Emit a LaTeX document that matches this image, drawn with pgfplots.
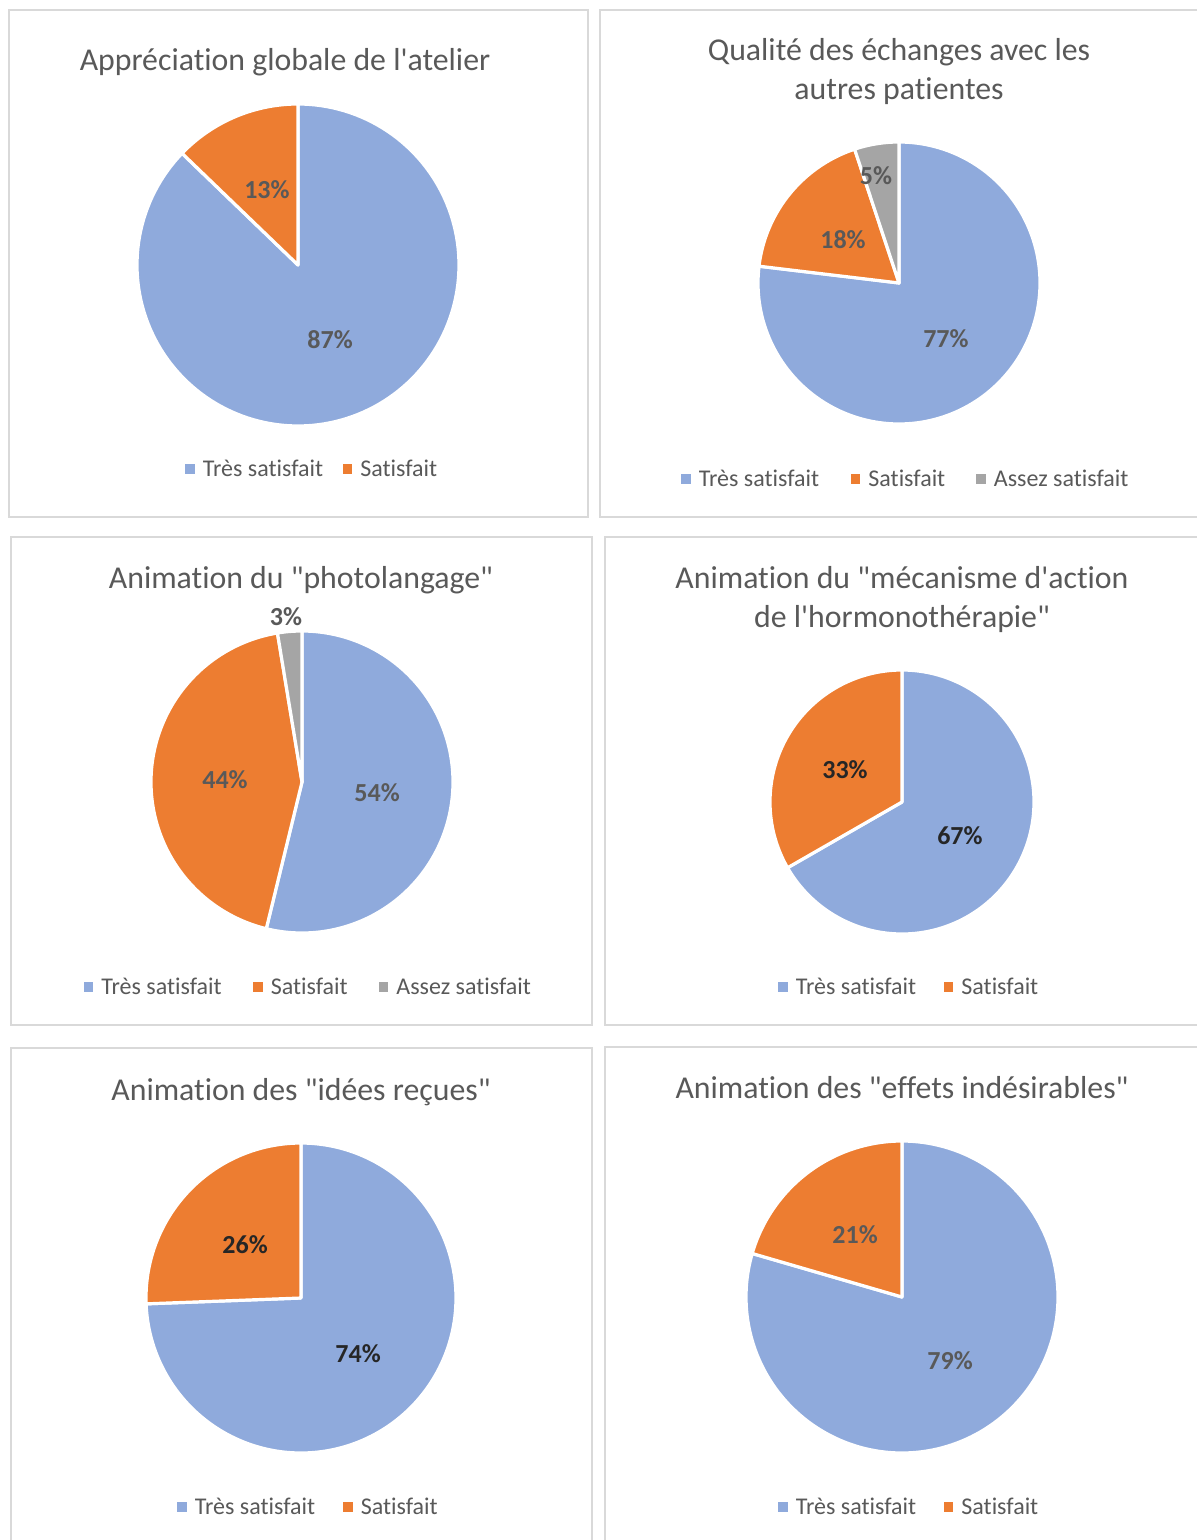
\documentclass[border=0pt]{standalone}
\usepackage{pgfplots}
\pgfplotsset{compat=1.18}
\usepackage{fontspec}
\setmainfont{Carlito}[Ligatures={TeXOff,NoCommon}]
\definecolor{cblue}{HTML}{8FAADC}
\definecolor{corange}{HTML}{ED7D31}
\definecolor{cgray}{HTML}{A5A5A5}
\definecolor{ctext}{HTML}{595959}
\definecolor{cdark}{HTML}{262626}
\definecolor{cborder}{HTML}{D9D9D9}

% slice from cumulative percentage #1 to #2, clockwise from the top
\newcommand{\pieslice}[3]{%
  \pgfmathsetmacro\dA{90-3.6*#2}%
  \pgfmathsetmacro\dB{90-3.6*#1}%
  \edef\doslice{\noexpand\addplot[draw=white, line width=1.6pt, line join=round, fill=#3, domain=\dA:\dB, samples=150] ({cos(x)},{sin(x)}) -- (axis cs:0,0) -- cycle;}%
  \doslice}
% positions are given in pixels from the top-left corner (y downwards)
\newcommand{\leg}[4]{% square centre x, square centre y, colour, text
  \fill[#3] ({#1-4.7},{-(#2)-4.7}) rectangle ({#1+4.7},{-(#2)+4.7});
  \node[anchor=base west, inner sep=0, text=ctext, font=\fontsize{12}{14}\selectfont] at ({#1+12.5},{-(#2)-7}) {#4};}
\newcommand{\ttl}[3]{\node[anchor=base, inner sep=0, text=ctext, font=\fontsize{15.9}{19}\selectfont] at (#1,{-(#2)-3}) {#3};}
\pgfplotsset{pie/.style={anchor=center, xmin=-1, xmax=1, ymin=-1, ymax=1, hide axis, clip=false}}
\tikzset{lab/.style={inner sep=0, text=ctext, font=\fontsize{13}{15}\selectfont\bfseries},
  labd/.style={inner sep=0, text=cdark, font=\fontsize{13}{15}\selectfont\bfseries}}

\begin{document}
\begin{tikzpicture}[x=0.5pt,y=0.5pt]
\useasboundingbox (0,-1540) rectangle (1197,0);
\fill[white] (0,-1540) rectangle (1197,0);
% pie centres
\coordinate (c1) at (298,-265);
\coordinate (c2) at (899,-283);
\coordinate (c3) at (302,-782);
\coordinate (c4) at (902,-802);
\coordinate (c5) at (301,-1298);
\coordinate (c6) at (902,-1297);
% panel frames
\begin{scope}[draw=cborder, line width=1pt]
\draw (8.5,-10.5) rectangle (588,-516.5);
\draw (600,-10.5) rectangle (1215,-516.5);
\draw (11,-537) rectangle (592,-1024.5);
\draw (604.5,-537) rectangle (1215,-1024.5);
\draw (11,-1048) rectangle (592,-1560);
\draw (604.5,-1047) rectangle (1215,-1560);
\end{scope}

% ---------- Panel 1
\ttl{285}{67.5}{Appréciation globale de l'atelier}
\begin{axis}[pie, at={(c1)}, x=80.5pt, y=80.5pt]
\pieslice{0}{87.2}{cblue}
\pieslice{87.2}{100}{corange}
\node[lab] at (axis cs:-0.193,0.466) {13\%};
\node[lab] at (axis cs:0.199,-0.466) {87\%};
\end{axis}
\leg{190}{469}{cblue}{Très satisfait}
\leg{347.5}{469}{corange}{Satisfait}

% ---------- Panel 2
\ttl{899}{57.5}{Qualité des échanges avec les}
\ttl{899}{96.5}{autres patientes}
\begin{axis}[pie, at={(c2)}, x=70.5pt, y=70.5pt]
\pieslice{0}{76.9}{cblue}
\pieslice{76.9}{94.9}{corange}
\pieslice{94.9}{100}{cgray}
\node[lab] at (axis cs:-0.163,0.759) {5\%};
\node[lab] at (axis cs:-0.397,0.305) {18\%};
\node[lab] at (axis cs:0.333,-0.397) {77\%};
\end{axis}
\leg{686}{479}{cblue}{Très satisfait}
\leg{855.5}{479}{corange}{Satisfait}
\leg{981}{479}{cgray}{Assez satisfait}

% ---------- Panel 3
\ttl{301}{585.5}{Animation du "photolangage"}
\begin{axis}[pie, at={(c3)}, x=75.5pt, y=75.5pt]
\pieslice{0}{53.8}{cblue}
\pieslice{53.8}{97.4}{corange}
\pieslice{97.4}{100}{cgray}
\node[lab] at (axis cs:-0.106,1.093) {3\%};
\node[lab] at (axis cs:-0.510,0.013) {44\%};
\node[lab] at (axis cs:0.497,-0.073) {54\%};
\end{axis}
\leg{88.5}{987}{cblue}{Très satisfait}
\leg{258}{987}{corange}{Satisfait}
\leg{383.5}{987}{cgray}{Assez satisfait}

% ---------- Panel 4
\ttl{902}{585.5}{Animation du "mécanisme d'action}
\ttl{902}{624.5}{de l'hormonothérapie"}
\begin{axis}[pie, at={(c4)}, x=66pt, y=66pt]
\pieslice{0}{66.7}{cblue}
\pieslice{66.7}{100}{corange}
\node[labd] at (axis cs:-0.432,0.242) {33\%};
\node[labd] at (axis cs:0.439,-0.258) {67\%};
\end{axis}
\leg{783}{987}{cblue}{Très satisfait}
\leg{948.5}{987}{corange}{Satisfait}

% ---------- Panel 5
\ttl{301}{1097.5}{Animation des "idées reçues"}
\begin{axis}[pie, at={(c5)}, x=77.5pt, y=77.5pt]
\pieslice{0}{74.4}{cblue}
\pieslice{74.4}{100}{corange}
\node[labd] at (axis cs:-0.361,0.342) {26\%};
\node[labd] at (axis cs:0.368,-0.361) {74\%};
\end{axis}
\leg{182}{1507}{cblue}{Très satisfait}
\leg{348}{1507}{corange}{Satisfait}

% ---------- Panel 6
\ttl{902}{1095.5}{Animation des "effets indésirables"}
\begin{axis}[pie, at={(c6)}, x=78pt, y=78pt]
\pieslice{0}{79.5}{cblue}
\pieslice{79.5}{100}{corange}
\node[lab] at (axis cs:-0.301,0.397) {21\%};
\node[lab] at (axis cs:0.308,-0.410) {79\%};
\end{axis}
\leg{783}{1507}{cblue}{Très satisfait}
\leg{948.5}{1507}{corange}{Satisfait}
\end{tikzpicture}
\end{document}
